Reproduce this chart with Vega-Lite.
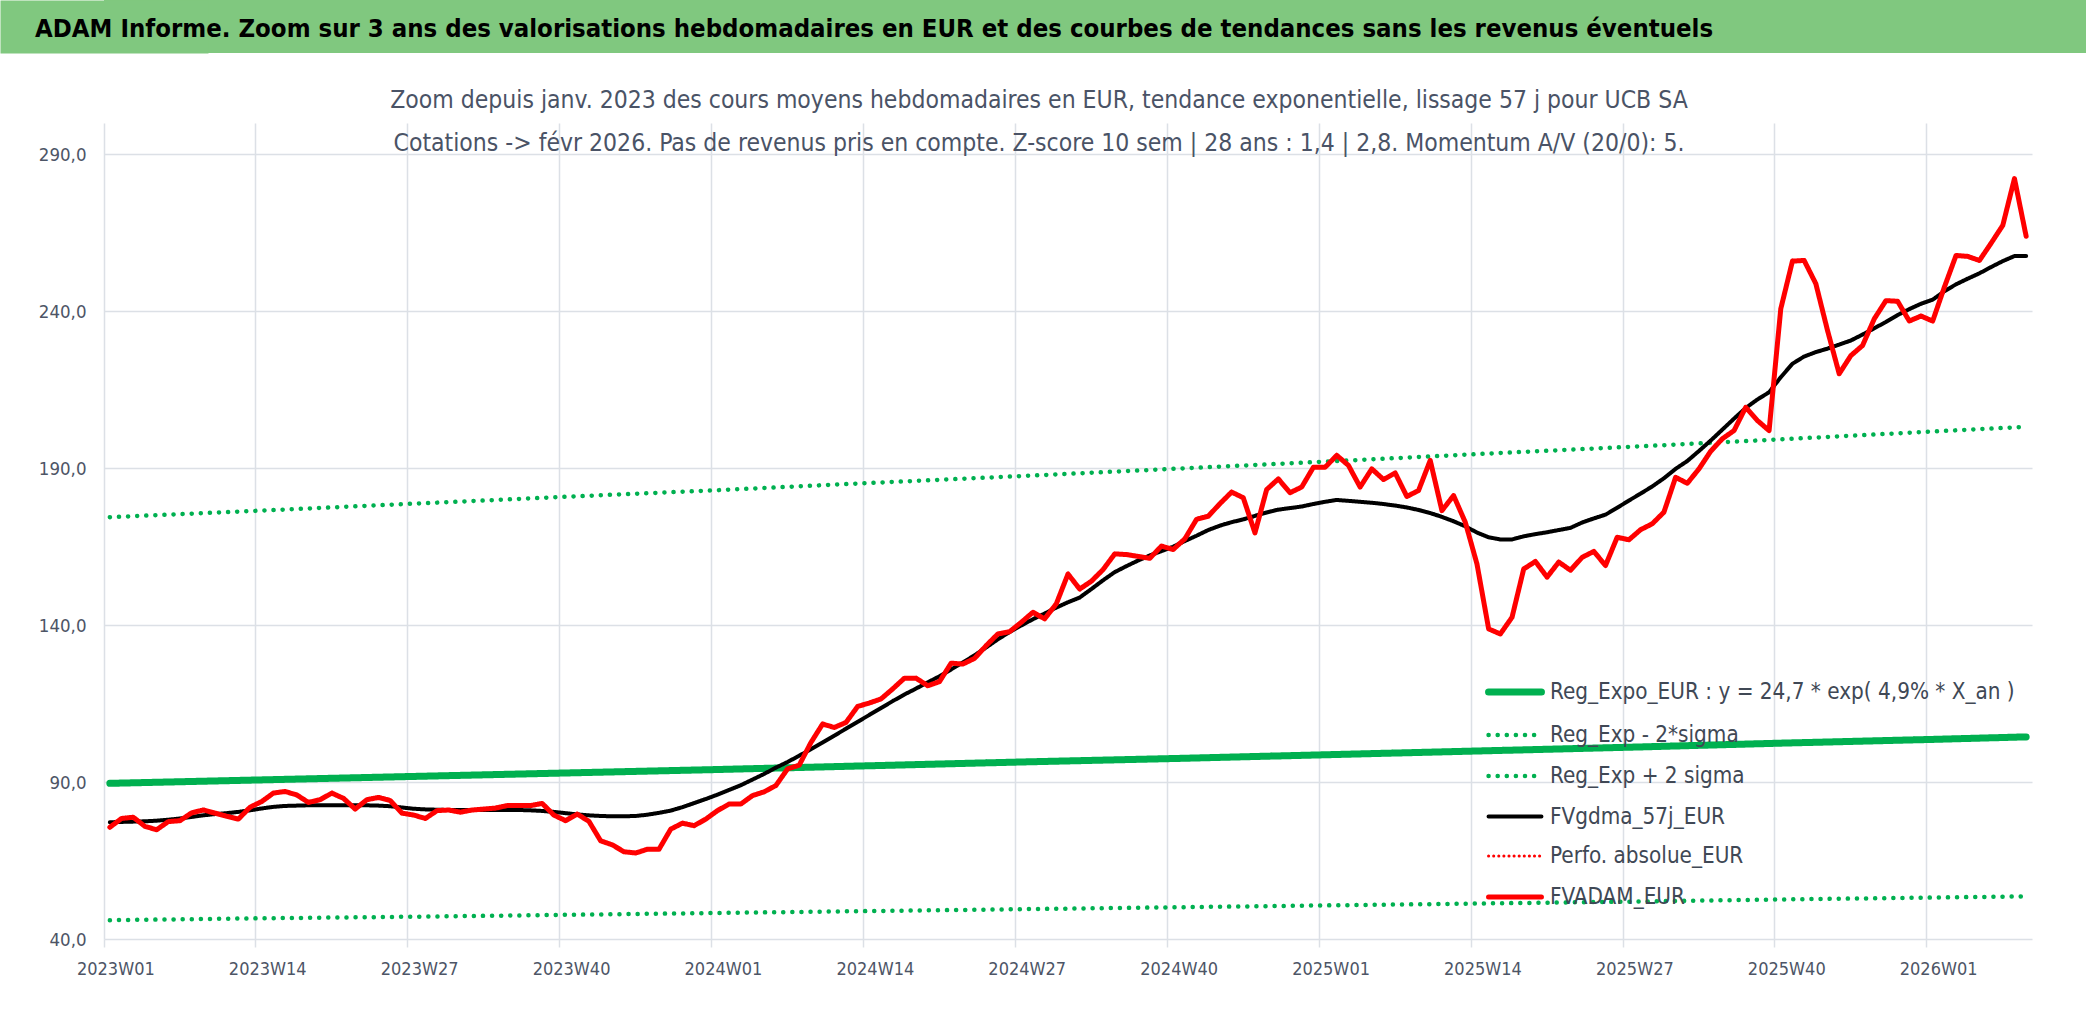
{
  "$schema": "https://vega.github.io/schema/vega-lite/v6.json",
  "background": "white",
  "padding": 0,
  "spacing": 34,
  "config": {
    "font": "DejaVu Sans Condensed, sans-serif",
    "view": {"stroke": null}
  },
  "vconcat": [
    {
      "width": 1982,
      "height": 53,
      "view": {"fill": "#80C87F", "stroke": null},
      "data": {"values": [{"titre": "ADAM Informe. Zoom sur 3 ans des valorisations hebdomadaires en EUR et des courbes de tendances sans les revenus éventuels"}]},
      "mark": {"type": "text", "align": "left", "baseline": "middle", "dx": -1060, "dy": 2, "fontSize": 25.5, "fontWeight": "bold", "color": "#000000"},
      "encoding": {
        "text": {"field": "titre", "type": "nominal"},
        "y": {
          "datum": 0, "type": "quantitative",
          "scale": {"domain": [-1, 1]},
          "axis": {"title": null, "labels": false, "ticks": false, "grid": false, "domain": true, "domainColor": "#80C87F", "domainWidth": 208, "domainCap": "butt"}
        }
      }
    },
    {
      "width": 1928,
      "height": 816,
      "view": {"stroke": null},
      "title": {
        "text": ["Zoom depuis janv. 2023 des cours moyens hebdomadaires en EUR, tendance exponentielle, lissage 57 j pour UCB SA", "Cotations -> févr 2026. Pas de revenus pris en compte. Z-score 10 sem | 28 ans : 1,4 | 2,8. Momentum A/V (20/0): 5."],
        "fontSize": 24.5, "fontWeight": "normal", "color": "#4A5366", "lineHeight": 43,
        "anchor": "middle", "frame": "group", "dx": -29, "offset": -33
      },
      "data": {"values": [
{"w":"2023W01","FVADAM_EUR":75.6,"FVgdma_57j_EUR":77.2,"Reg_Expo_EUR : y = 24,7 * exp( 4,9% *  X_an )":89.6,"Reg_Exp - 2*sigma":46.0,"Reg_Exp + 2 sigma":174.4},
{"w":"2023W02","FVADAM_EUR":78.4,"FVgdma_57j_EUR":77.3},
{"w":"2023W03","FVADAM_EUR":78.8,"FVgdma_57j_EUR":77.4},
{"w":"2023W04","FVADAM_EUR":75.9,"FVgdma_57j_EUR":77.5},
{"w":"2023W05","FVADAM_EUR":74.8,"FVgdma_57j_EUR":77.7},
{"w":"2023W06","FVADAM_EUR":77.4,"FVgdma_57j_EUR":78.0},
{"w":"2023W07","FVADAM_EUR":77.7,"FVgdma_57j_EUR":78.4},
{"w":"2023W08","FVADAM_EUR":80.2,"FVgdma_57j_EUR":78.9},
{"w":"2023W09","FVADAM_EUR":81.1,"FVgdma_57j_EUR":79.4},
{"w":"2023W10","FVADAM_EUR":80.1,"FVgdma_57j_EUR":79.8},
{"w":"2023W11","FVADAM_EUR":79.1,"FVgdma_57j_EUR":80.1},
{"w":"2023W12","FVADAM_EUR":78.2,"FVgdma_57j_EUR":80.5},
{"w":"2023W13","FVADAM_EUR":82.0,"FVgdma_57j_EUR":81.0},
{"w":"2023W14","FVADAM_EUR":83.8,"FVgdma_57j_EUR":81.6,"Reg_Expo_EUR : y = 24,7 * exp( 4,9% *  X_an )":90.7,"Reg_Exp - 2*sigma":46.6,"Reg_Exp + 2 sigma":176.5},
{"w":"2023W15","FVADAM_EUR":86.5,"FVgdma_57j_EUR":82.1},
{"w":"2023W16","FVADAM_EUR":87.0,"FVgdma_57j_EUR":82.4},
{"w":"2023W17","FVADAM_EUR":85.9,"FVgdma_57j_EUR":82.5},
{"w":"2023W18","FVADAM_EUR":83.5,"FVgdma_57j_EUR":82.6},
{"w":"2023W19","FVADAM_EUR":84.4,"FVgdma_57j_EUR":82.6},
{"w":"2023W20","FVADAM_EUR":86.5,"FVgdma_57j_EUR":82.6},
{"w":"2023W21","FVADAM_EUR":84.8,"FVgdma_57j_EUR":82.6},
{"w":"2023W22","FVADAM_EUR":81.4,"FVgdma_57j_EUR":82.6},
{"w":"2023W23","FVADAM_EUR":84.4,"FVgdma_57j_EUR":82.6},
{"w":"2023W24","FVADAM_EUR":85.1,"FVgdma_57j_EUR":82.5},
{"w":"2023W25","FVADAM_EUR":84.1,"FVgdma_57j_EUR":82.3},
{"w":"2023W26","FVADAM_EUR":80.1,"FVgdma_57j_EUR":81.9},
{"w":"2023W27","FVADAM_EUR":79.5,"FVgdma_57j_EUR":81.5,"Reg_Expo_EUR : y = 24,7 * exp( 4,9% *  X_an )":91.8,"Reg_Exp - 2*sigma":47.1,"Reg_Exp + 2 sigma":178.7},
{"w":"2023W28","FVADAM_EUR":78.4,"FVgdma_57j_EUR":81.3},
{"w":"2023W29","FVADAM_EUR":80.9,"FVgdma_57j_EUR":81.2},
{"w":"2023W30","FVADAM_EUR":81.1,"FVgdma_57j_EUR":81.1},
{"w":"2023W31","FVADAM_EUR":80.4,"FVgdma_57j_EUR":81.1},
{"w":"2023W32","FVADAM_EUR":81.1,"FVgdma_57j_EUR":81.1},
{"w":"2023W33","FVADAM_EUR":81.4,"FVgdma_57j_EUR":81.1},
{"w":"2023W34","FVADAM_EUR":81.7,"FVgdma_57j_EUR":81.1},
{"w":"2023W35","FVADAM_EUR":82.5,"FVgdma_57j_EUR":81.1},
{"w":"2023W36","FVADAM_EUR":82.5,"FVgdma_57j_EUR":81.1},
{"w":"2023W37","FVADAM_EUR":82.5,"FVgdma_57j_EUR":81.0},
{"w":"2023W38","FVADAM_EUR":83.2,"FVgdma_57j_EUR":80.8},
{"w":"2023W39","FVADAM_EUR":79.5,"FVgdma_57j_EUR":80.5},
{"w":"2023W40","FVADAM_EUR":77.7,"FVgdma_57j_EUR":80.1,"Reg_Expo_EUR : y = 24,7 * exp( 4,9% *  X_an )":92.9,"Reg_Exp - 2*sigma":47.7,"Reg_Exp + 2 sigma":180.9},
{"w":"2023W41","FVADAM_EUR":79.8,"FVgdma_57j_EUR":79.7},
{"w":"2023W42","FVADAM_EUR":77.5,"FVgdma_57j_EUR":79.4},
{"w":"2023W43","FVADAM_EUR":71.3,"FVgdma_57j_EUR":79.2},
{"w":"2023W44","FVADAM_EUR":70.0,"FVgdma_57j_EUR":79.1},
{"w":"2023W45","FVADAM_EUR":67.8,"FVgdma_57j_EUR":79.1},
{"w":"2023W46","FVADAM_EUR":67.4,"FVgdma_57j_EUR":79.2},
{"w":"2023W47","FVADAM_EUR":68.6,"FVgdma_57j_EUR":79.6},
{"w":"2023W48","FVADAM_EUR":68.6,"FVgdma_57j_EUR":80.2},
{"w":"2023W49","FVADAM_EUR":75.0,"FVgdma_57j_EUR":80.9},
{"w":"2023W50","FVADAM_EUR":76.9,"FVgdma_57j_EUR":82.0},
{"w":"2023W51","FVADAM_EUR":76.1,"FVgdma_57j_EUR":83.3},
{"w":"2023W52","FVADAM_EUR":78.2,"FVgdma_57j_EUR":84.6},
{"w":"2024W01","FVADAM_EUR":80.9,"FVgdma_57j_EUR":86.0,"Reg_Expo_EUR : y = 24,7 * exp( 4,9% *  X_an )":94.0,"Reg_Exp - 2*sigma":48.3,"Reg_Exp + 2 sigma":183.0},
{"w":"2024W02","FVADAM_EUR":83.0,"FVgdma_57j_EUR":87.5},
{"w":"2024W03","FVADAM_EUR":83.0,"FVgdma_57j_EUR":89.0},
{"w":"2024W04","FVADAM_EUR":85.7,"FVgdma_57j_EUR":90.8},
{"w":"2024W05","FVADAM_EUR":86.9,"FVgdma_57j_EUR":92.6},
{"w":"2024W06","FVADAM_EUR":88.9,"FVgdma_57j_EUR":94.6},
{"w":"2024W07","FVADAM_EUR":94.2,"FVgdma_57j_EUR":96.4},
{"w":"2024W08","FVADAM_EUR":95.4,"FVgdma_57j_EUR":98.4},
{"w":"2024W09","FVADAM_EUR":102.6,"FVgdma_57j_EUR":100.5},
{"w":"2024W10","FVADAM_EUR":108.5,"FVgdma_57j_EUR":102.6},
{"w":"2024W11","FVADAM_EUR":107.4,"FVgdma_57j_EUR":104.8},
{"w":"2024W12","FVADAM_EUR":109.0,"FVgdma_57j_EUR":107.0},
{"w":"2024W13","FVADAM_EUR":114.1,"FVgdma_57j_EUR":109.2},
{"w":"2024W14","FVADAM_EUR":115.2,"FVgdma_57j_EUR":111.4,"Reg_Expo_EUR : y = 24,7 * exp( 4,9% *  X_an )":95.2,"Reg_Exp - 2*sigma":48.9,"Reg_Exp + 2 sigma":185.3},
{"w":"2024W15","FVADAM_EUR":116.5,"FVgdma_57j_EUR":113.6},
{"w":"2024W16","FVADAM_EUR":119.7,"FVgdma_57j_EUR":115.8},
{"w":"2024W17","FVADAM_EUR":123.1,"FVgdma_57j_EUR":117.9},
{"w":"2024W18","FVADAM_EUR":123.1,"FVgdma_57j_EUR":119.8},
{"w":"2024W19","FVADAM_EUR":120.7,"FVgdma_57j_EUR":121.8},
{"w":"2024W20","FVADAM_EUR":122.0,"FVgdma_57j_EUR":123.7},
{"w":"2024W21","FVADAM_EUR":127.9,"FVgdma_57j_EUR":125.9},
{"w":"2024W22","FVADAM_EUR":127.6,"FVgdma_57j_EUR":128.1},
{"w":"2024W23","FVADAM_EUR":129.4,"FVgdma_57j_EUR":130.4},
{"w":"2024W24","FVADAM_EUR":133.5,"FVgdma_57j_EUR":132.9},
{"w":"2024W25","FVADAM_EUR":137.2,"FVgdma_57j_EUR":135.5},
{"w":"2024W26","FVADAM_EUR":137.9,"FVgdma_57j_EUR":137.8},
{"w":"2024W27","FVADAM_EUR":140.9,"FVgdma_57j_EUR":139.9,"Reg_Expo_EUR : y = 24,7 * exp( 4,9% *  X_an )":96.4,"Reg_Exp - 2*sigma":49.5,"Reg_Exp + 2 sigma":187.5},
{"w":"2024W28","FVADAM_EUR":144.1,"FVgdma_57j_EUR":141.9},
{"w":"2024W29","FVADAM_EUR":142.0,"FVgdma_57j_EUR":143.7},
{"w":"2024W30","FVADAM_EUR":146.8,"FVgdma_57j_EUR":145.6},
{"w":"2024W31","FVADAM_EUR":156.3,"FVgdma_57j_EUR":147.3},
{"w":"2024W32","FVADAM_EUR":151.5,"FVgdma_57j_EUR":148.8},
{"w":"2024W33","FVADAM_EUR":154.0,"FVgdma_57j_EUR":151.5},
{"w":"2024W34","FVADAM_EUR":157.7,"FVgdma_57j_EUR":154.3},
{"w":"2024W35","FVADAM_EUR":162.7,"FVgdma_57j_EUR":156.9},
{"w":"2024W36","FVADAM_EUR":162.5,"FVgdma_57j_EUR":158.8},
{"w":"2024W37","FVADAM_EUR":161.9,"FVgdma_57j_EUR":160.6},
{"w":"2024W38","FVADAM_EUR":161.3,"FVgdma_57j_EUR":162.2},
{"w":"2024W39","FVADAM_EUR":165.2,"FVgdma_57j_EUR":163.6},
{"w":"2024W40","FVADAM_EUR":164.1,"FVgdma_57j_EUR":165.0,"Reg_Expo_EUR : y = 24,7 * exp( 4,9% *  X_an )":97.5,"Reg_Exp - 2*sigma":50.1,"Reg_Exp + 2 sigma":189.8},
{"w":"2024W41","FVADAM_EUR":167.5,"FVgdma_57j_EUR":166.8},
{"w":"2024W42","FVADAM_EUR":173.7,"FVgdma_57j_EUR":168.5},
{"w":"2024W43","FVADAM_EUR":174.7,"FVgdma_57j_EUR":170.3},
{"w":"2024W44","FVADAM_EUR":178.7,"FVgdma_57j_EUR":171.7},
{"w":"2024W45","FVADAM_EUR":182.4,"FVgdma_57j_EUR":172.8},
{"w":"2024W46","FVADAM_EUR":180.6,"FVgdma_57j_EUR":173.7},
{"w":"2024W47","FVADAM_EUR":169.4,"FVgdma_57j_EUR":174.8},
{"w":"2024W48","FVADAM_EUR":183.2,"FVgdma_57j_EUR":175.9},
{"w":"2024W49","FVADAM_EUR":186.6,"FVgdma_57j_EUR":176.8},
{"w":"2024W50","FVADAM_EUR":182.2,"FVgdma_57j_EUR":177.3},
{"w":"2024W51","FVADAM_EUR":184.0,"FVgdma_57j_EUR":177.8},
{"w":"2024W52","FVADAM_EUR":190.3,"FVgdma_57j_EUR":178.6},
{"w":"2025W01","FVADAM_EUR":190.3,"FVgdma_57j_EUR":179.3,"Reg_Expo_EUR : y = 24,7 * exp( 4,9% *  X_an )":98.7,"Reg_Exp - 2*sigma":50.7,"Reg_Exp + 2 sigma":192.1},
{"w":"2025W02","FVADAM_EUR":194.1,"FVgdma_57j_EUR":179.9},
{"w":"2025W03","FVADAM_EUR":190.9,"FVgdma_57j_EUR":179.6},
{"w":"2025W04","FVADAM_EUR":184.0,"FVgdma_57j_EUR":179.3},
{"w":"2025W05","FVADAM_EUR":189.8,"FVgdma_57j_EUR":179.0},
{"w":"2025W06","FVADAM_EUR":186.4,"FVgdma_57j_EUR":178.6},
{"w":"2025W07","FVADAM_EUR":188.5,"FVgdma_57j_EUR":178.1},
{"w":"2025W08","FVADAM_EUR":181.0,"FVgdma_57j_EUR":177.5},
{"w":"2025W09","FVADAM_EUR":182.9,"FVgdma_57j_EUR":176.7},
{"w":"2025W10","FVADAM_EUR":192.5,"FVgdma_57j_EUR":175.7},
{"w":"2025W11","FVADAM_EUR":176.5,"FVgdma_57j_EUR":174.5},
{"w":"2025W12","FVADAM_EUR":181.3,"FVgdma_57j_EUR":173.1},
{"w":"2025W13","FVADAM_EUR":172.8,"FVgdma_57j_EUR":171.5},
{"w":"2025W14","FVADAM_EUR":159.5,"FVgdma_57j_EUR":169.5,"Reg_Expo_EUR : y = 24,7 * exp( 4,9% *  X_an )":99.9,"Reg_Exp - 2*sigma":51.3,"Reg_Exp + 2 sigma":194.5},
{"w":"2025W15","FVADAM_EUR":138.8,"FVgdma_57j_EUR":168.0},
{"w":"2025W16","FVADAM_EUR":137.2,"FVgdma_57j_EUR":167.3},
{"w":"2025W17","FVADAM_EUR":142.5,"FVgdma_57j_EUR":167.3},
{"w":"2025W18","FVADAM_EUR":157.9,"FVgdma_57j_EUR":168.3},
{"w":"2025W19","FVADAM_EUR":160.3,"FVgdma_57j_EUR":169.0},
{"w":"2025W20","FVADAM_EUR":155.3,"FVgdma_57j_EUR":169.6},
{"w":"2025W21","FVADAM_EUR":160.1,"FVgdma_57j_EUR":170.3},
{"w":"2025W22","FVADAM_EUR":157.5,"FVgdma_57j_EUR":171.0},
{"w":"2025W23","FVADAM_EUR":161.6,"FVgdma_57j_EUR":172.7},
{"w":"2025W24","FVADAM_EUR":163.5,"FVgdma_57j_EUR":174.0},
{"w":"2025W25","FVADAM_EUR":159.0,"FVgdma_57j_EUR":175.2},
{"w":"2025W26","FVADAM_EUR":168.0,"FVgdma_57j_EUR":177.4},
{"w":"2025W27","FVADAM_EUR":167.2,"FVgdma_57j_EUR":179.7,"Reg_Expo_EUR : y = 24,7 * exp( 4,9% *  X_an )":101.1,"Reg_Exp - 2*sigma":51.9,"Reg_Exp + 2 sigma":196.8},
{"w":"2025W28","FVADAM_EUR":170.4,"FVgdma_57j_EUR":181.9},
{"w":"2025W29","FVADAM_EUR":172.3,"FVgdma_57j_EUR":184.2},
{"w":"2025W30","FVADAM_EUR":176.0,"FVgdma_57j_EUR":186.8},
{"w":"2025W31","FVADAM_EUR":187.1,"FVgdma_57j_EUR":189.8},
{"w":"2025W32","FVADAM_EUR":185.2,"FVgdma_57j_EUR":192.3},
{"w":"2025W33","FVADAM_EUR":189.8,"FVgdma_57j_EUR":195.5},
{"w":"2025W34","FVADAM_EUR":195.4,"FVgdma_57j_EUR":198.8},
{"w":"2025W35","FVADAM_EUR":199.4,"FVgdma_57j_EUR":202.3},
{"w":"2025W36","FVADAM_EUR":202.0,"FVgdma_57j_EUR":205.8},
{"w":"2025W37","FVADAM_EUR":209.4,"FVgdma_57j_EUR":209.2},
{"w":"2025W38","FVADAM_EUR":205.2,"FVgdma_57j_EUR":211.9},
{"w":"2025W39","FVADAM_EUR":202.0,"FVgdma_57j_EUR":214.2},
{"w":"2025W40","FVADAM_EUR":240.8,"FVgdma_57j_EUR":219.0,"Reg_Expo_EUR : y = 24,7 * exp( 4,9% *  X_an )":102.4,"Reg_Exp - 2*sigma":52.6,"Reg_Exp + 2 sigma":199.2},
{"w":"2025W41","FVADAM_EUR":256.0,"FVgdma_57j_EUR":223.3},
{"w":"2025W42","FVADAM_EUR":256.2,"FVgdma_57j_EUR":225.6},
{"w":"2025W43","FVADAM_EUR":248.8,"FVgdma_57j_EUR":227.0},
{"w":"2025W44","FVADAM_EUR":233.9,"FVgdma_57j_EUR":228.1},
{"w":"2025W45","FVADAM_EUR":220.1,"FVgdma_57j_EUR":229.4},
{"w":"2025W46","FVADAM_EUR":225.9,"FVgdma_57j_EUR":230.7},
{"w":"2025W47","FVADAM_EUR":229.1,"FVgdma_57j_EUR":232.6},
{"w":"2025W48","FVADAM_EUR":237.6,"FVgdma_57j_EUR":234.6},
{"w":"2025W49","FVADAM_EUR":243.4,"FVgdma_57j_EUR":236.6},
{"w":"2025W50","FVADAM_EUR":243.2,"FVgdma_57j_EUR":238.8},
{"w":"2025W51","FVADAM_EUR":236.9,"FVgdma_57j_EUR":240.7},
{"w":"2025W52","FVADAM_EUR":238.5,"FVgdma_57j_EUR":242.4},
{"w":"2026W01","FVADAM_EUR":236.9,"FVgdma_57j_EUR":243.7,"Reg_Expo_EUR : y = 24,7 * exp( 4,9% *  X_an )":103.6,"Reg_Exp - 2*sigma":53.2,"Reg_Exp + 2 sigma":201.7},
{"w":"2026W02","FVADAM_EUR":247.7,"FVgdma_57j_EUR":246.4},
{"w":"2026W03","FVADAM_EUR":257.8,"FVgdma_57j_EUR":248.6},
{"w":"2026W04","FVADAM_EUR":257.5,"FVgdma_57j_EUR":250.4},
{"w":"2026W05","FVADAM_EUR":256.2,"FVgdma_57j_EUR":252.1},
{"w":"2026W06","FVADAM_EUR":261.7,"FVgdma_57j_EUR":254.1},
{"w":"2026W07","FVADAM_EUR":267.4,"FVgdma_57j_EUR":256.0},
{"w":"2026W08","FVADAM_EUR":282.3,"FVgdma_57j_EUR":257.6},
{"w":"2026W09","FVADAM_EUR":263.9,"FVgdma_57j_EUR":257.6,"Reg_Expo_EUR : y = 24,7 * exp( 4,9% *  X_an )":104.4,"Reg_Exp - 2*sigma":53.6,"Reg_Exp + 2 sigma":203.2}
      ]},
      "transform": [
        {"fold": ["Reg_Expo_EUR : y = 24,7 * exp( 4,9% *  X_an )", "Reg_Exp - 2*sigma", "Reg_Exp + 2 sigma", "FVgdma_57j_EUR", "FVADAM_EUR"], "as": ["serie", "valeur"]},
        {"filter": "isValid(datum.valeur)"}
      ],
      "mark": {"type": "line", "strokeCap": "round", "strokeJoin": "round"},
      "encoding": {
        "x": {
          "field": "w", "type": "ordinal", "bandPosition": 0.5,
          "scale": {"type": "band", "paddingInner": 0, "paddingOuter": 0},
          "axis": {
            "title": null,
            "values": ["2023W01","2023W14","2023W27","2023W40","2024W01","2024W14","2024W27","2024W40","2025W01","2025W14","2025W27","2025W40","2026W01"],
            "bandPosition": 0,
            "grid": true, "gridColor": "#DCE0E6", "gridWidth": 1.5,
            "ticks": true, "tickColor": "#DCE0E6", "tickSize": 8, "tickWidth": 1.5,
            "domain": false, "labelAngle": 0, "labelOffset": 6,
            "labelFontSize": 18, "labelColor": "#4D5566", "labelPadding": 13
          }
        },
        "y": {
          "field": "valeur", "type": "quantitative",
          "scale": {"domain": [40, 300], "nice": false, "zero": false},
          "axis": {
            "title": null,
            "values": [40, 90, 140, 190, 240, 290],
            "labelExpr": "replace(format(datum.value, '.1f'), '.', ',')",
            "grid": true, "gridColor": "#DCE0E6", "gridWidth": 1.5,
            "ticks": false, "domain": false,
            "labelFontSize": 18.5, "labelColor": "#4D5566", "labelPadding": 18,
            "minExtent": 104
          }
        },
        "color": {
          "field": "serie", "type": "nominal",
          "scale": {
            "domain": ["Reg_Expo_EUR : y = 24,7 * exp( 4,9% *  X_an )", "Reg_Exp - 2*sigma", "Reg_Exp + 2 sigma", "FVgdma_57j_EUR", "Perfo. absolue_EUR", "FVADAM_EUR"],
            "range": ["#00B050", "#00B050", "#00B050", "#000000", "#FF0000", "#FF0000"]
          },
          "legend": {
            "title": null, "orient": "none", "legendX": 1381, "legendY": 662,
            "symbolType": "stroke", "symbolSize": 2800, "padding": 0,
            "labelFontSize": 22.3, "labelColor": "#404855", "labelOffset": 5,
            "labelLimit": 800, "rowPadding": 0,
            "encode": {"symbols": {"update": {"strokeCap": {"value": "round"}}}}
          }
        },
        "strokeDash": {
          "field": "serie", "type": "nominal",
          "scale": {
            "domain": ["Reg_Expo_EUR : y = 24,7 * exp( 4,9% *  X_an )", "Reg_Exp - 2*sigma", "Reg_Exp + 2 sigma", "FVgdma_57j_EUR", "Perfo. absolue_EUR", "FVADAM_EUR"],
            "range": [[1, 0], [0.1, 9], [0.1, 9], [1, 0], [0.1, 5], [1, 0]]
          }
        },
        "strokeWidth": {
          "field": "serie", "type": "nominal",
          "scale": {
            "type": "ordinal",
            "domain": ["Reg_Expo_EUR : y = 24,7 * exp( 4,9% *  X_an )", "Reg_Exp - 2*sigma", "Reg_Exp + 2 sigma", "FVgdma_57j_EUR", "Perfo. absolue_EUR", "FVADAM_EUR"],
            "range": [7, 4.5, 4.5, 4, 3, 5]
          }
        }
      }
    }
  ]
}
